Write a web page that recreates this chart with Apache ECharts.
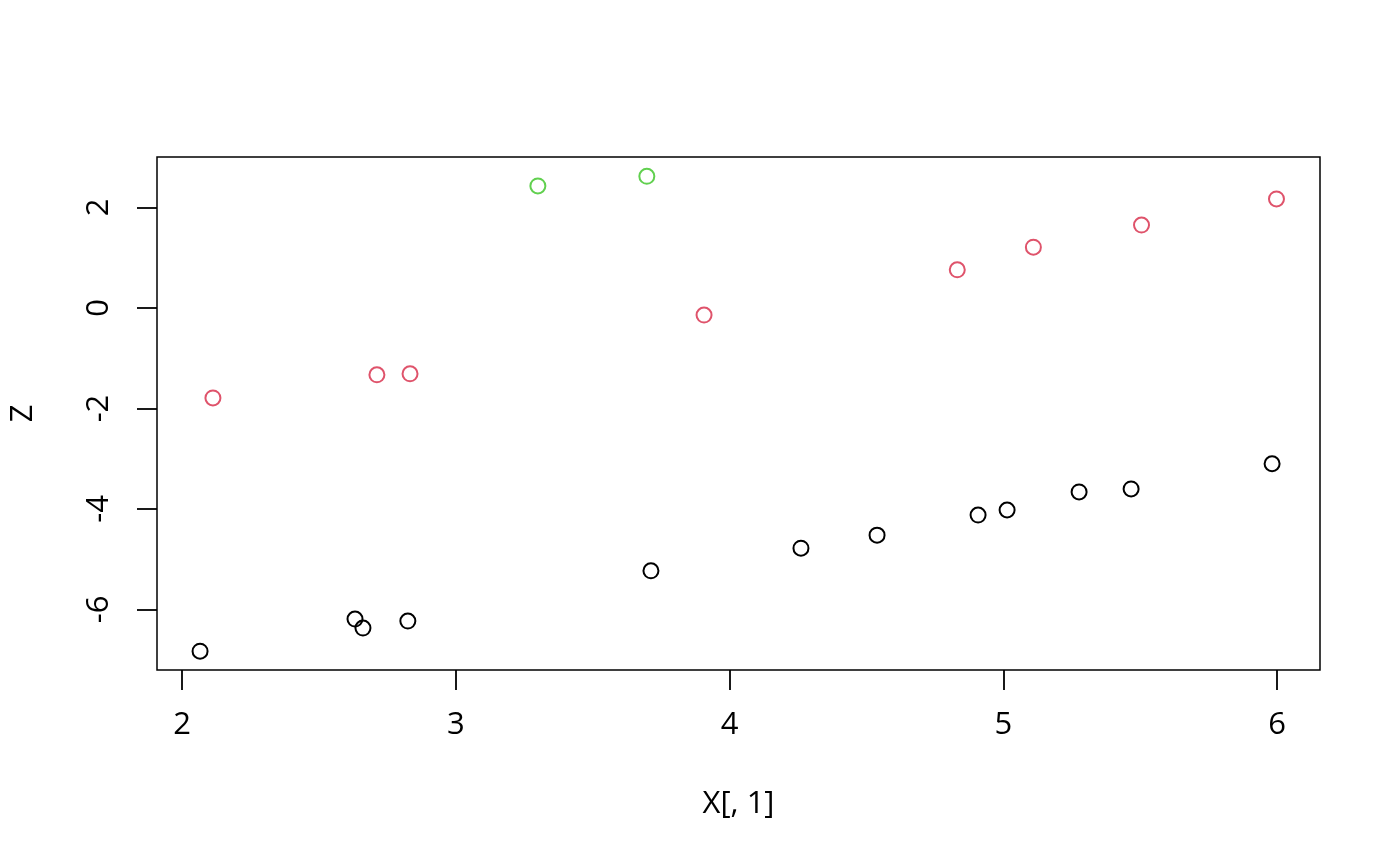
<!DOCTYPE html>
<html>
<head>
<meta charset="utf-8">
<script src="https://cdn.jsdelivr.net/npm/echarts@6/dist/echarts.min.js"></script>
<style>html,body{margin:0;padding:0;background:#fff}#c{width:1400px;height:866px}</style>
</head>
<body>
<div id="c"></div>
<script>
const blackX = [2.066, 2.632, 2.661, 2.825, 3.713, 4.261, 4.539, 4.908, 5.014, 5.277, 5.467, 5.982];
const blackY = [-6.83, -6.19, -6.37, -6.23, -5.23, -4.78, -4.52, -4.12, -4.02, -3.66, -3.60, -3.10];
const redX = [2.113, 2.712, 2.833, 3.907, 4.832, 5.110, 5.505, 5.998];
const redY = [-1.79, -1.33, -1.31, -0.14, 0.76, 1.21, 1.65, 2.17];
const greenX = [3.300, 3.698];
const greenY = [2.43, 2.62];
const xTicks = [2, 3, 4, 5, 6];
const yTicks = [-6, -4, -2, 0, 2];
const xLabel = 'X[, 1]';
const yLabel = 'Z';

const zip = (xs, ys) => xs.map((x, i) => [x, ys[i]]);
const font = 'Open Sans';
function ser(xs, ys, color) {
  return {
    type: 'scatter', data: zip(xs, ys), symbol: 'circle', symbolSize: 15,
    itemStyle: { color: 'rgba(0,0,0,0)', borderColor: color, borderWidth: 2, opacity: 1 },
    emphasis: { disabled: true }, animation: false
  };
}
const chart = echarts.init(document.getElementById('c'));
chart.setOption({
  backgroundColor: '#fff',
  animation: false,
  grid: { left: 157, right: 80, top: 157, bottom: 196, show: true, borderColor: '#000', borderWidth: 1.5, backgroundColor: 'transparent' },
  xAxis: {
    type: 'value', min: 1.9087, max: 6.157,
    name: xLabel, nameLocation: 'middle', nameGap: 119,
    nameTextStyle: { fontFamily: font, fontSize: 31, color: '#000' },
    axisLine: { show: false, onZero: false },
    axisTick: { show: true, inside: false, length: 20, customValues: xTicks, lineStyle: { color: '#000', width: 1.8 } },
    axisLabel: { customValues: xTicks, margin: 40, fontFamily: font, fontSize: 31, color: '#000' },
    splitLine: { show: false }
  },
  yAxis: {
    type: 'value', min: -7.204, max: 3.005,
    name: yLabel, nameLocation: 'middle', nameGap: 118, nameRotate: 90,
    nameTextStyle: { fontFamily: font, fontSize: 31, color: '#000' },
    axisLine: { show: false, onZero: false },
    axisTick: { show: true, inside: false, length: 20, customValues: yTicks, lineStyle: { color: '#000', width: 1.8 } },
    axisLabel: { customValues: yTicks, rotate: 90, margin: 42, fontFamily: font, fontSize: 31, color: '#000' },
    splitLine: { show: false }
  },
  series: [ser(blackX, blackY, '#000000'), ser(redX, redY, '#DF536B'), ser(greenX, greenY, '#61D04F')]
});
</script>
</body>
</html>
